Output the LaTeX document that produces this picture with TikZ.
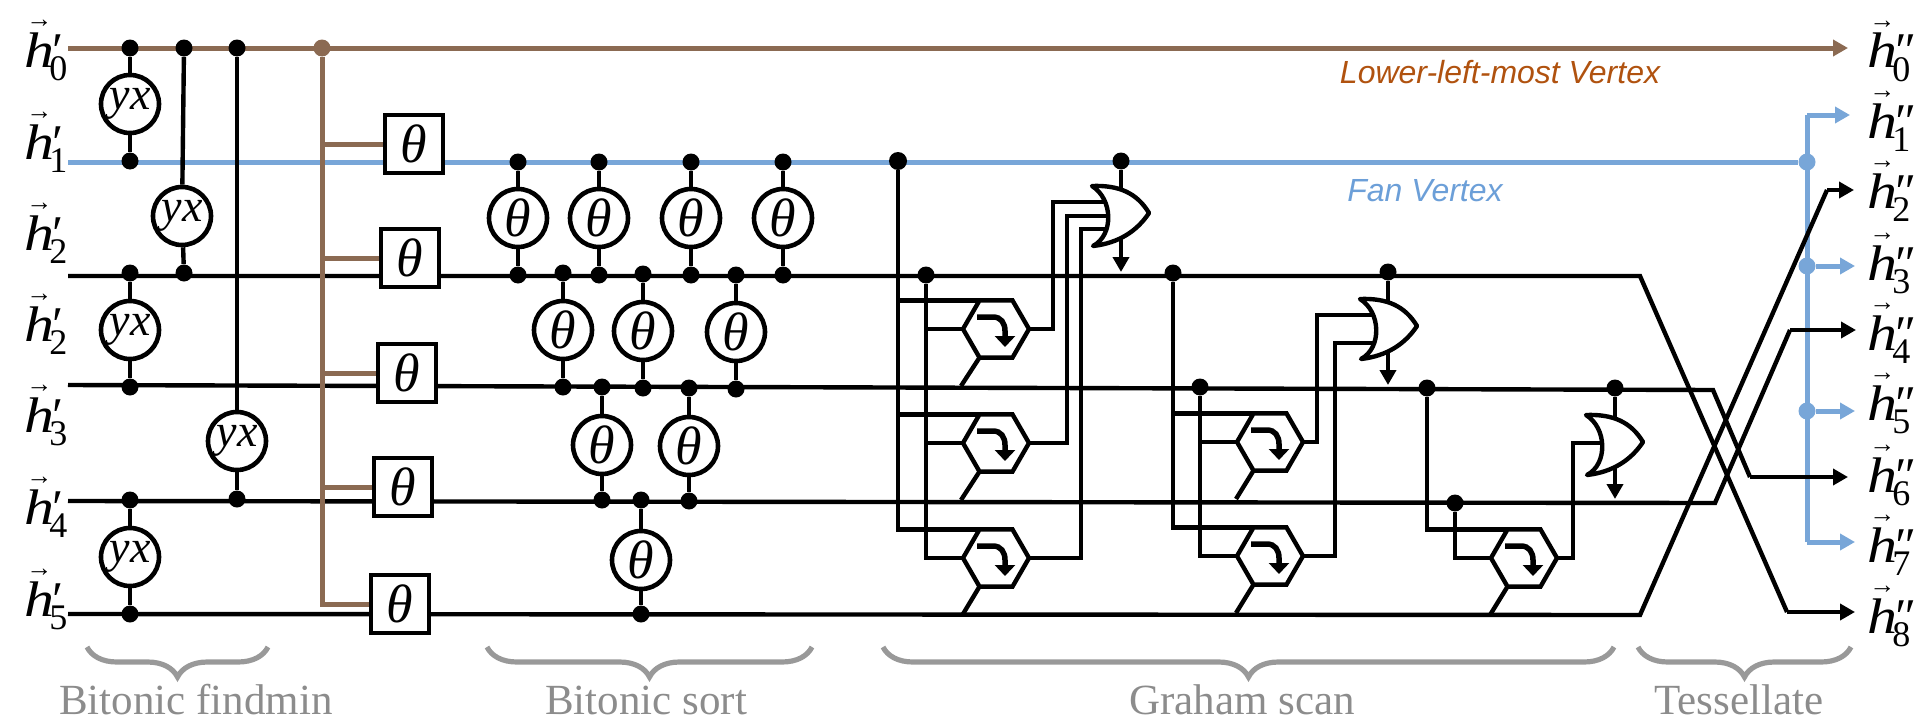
\documentclass[tikz,border=0pt]{standalone}
\usepackage{fontspec}
\setmainfont{Liberation Serif}
\newfontfamily\labsans{Liberation Sans}
\usetikzlibrary{positioning, arrows.meta, shapes.geometric, decorations.pathreplacing}
\definecolor{BrownA}{HTML}{8B6A52}
\definecolor{BlueA}{HTML}{78A6D8}
\definecolor{GrayA}{HTML}{999999}
\definecolor{GrayT}{HTML}{8C8C8C}
\definecolor{OrangeT}{HTML}{B0520F}
\definecolor{BlueT}{HTML}{6C9FD8}
\newcommand{\hlab}[2]{\rlap{\hspace{1pt}\raisebox{20pt}{\fontsize{13}{13}\selectfont →}}\scalebox{1.2}[1]{\itshape h}\hspace{-2.5pt}\rlap{\itshape #1}\raisebox{-6.5pt}{\fontsize{18}{20}\selectfont #2}}
\tikzset{
  wire/.style={draw=black, line width=2.2pt},
  wbrown/.style={draw=BrownA, line width=2.5pt},
  wblue/.style={draw=BlueA, line width=2.5pt},
  arr/.style={-{Triangle[length=7.5pt,width=8pt]}},
  dotk/.style={circle, fill=black, minimum size=8.5pt, inner sep=0pt},
  dotb/.style={circle, fill=BrownA, minimum size=8.5pt, inner sep=0pt},
  dotl/.style={circle, fill=BlueA, minimum size=8.5pt, inner sep=0pt},
  yxg/.style={draw, circle, fill=white, line width=2.3pt, minimum size=29pt, inner sep=0pt, font=\fontsize{23}{27}\selectfont\itshape},
  thg/.style={draw, circle, fill=white, line width=2.3pt, minimum size=29pt, inner sep=0pt, font=\fontsize{27}{30}\selectfont\itshape},
  thb/.style={draw, rectangle, fill=white, line width=2.3pt, minimum size=29pt, inner sep=0pt, font=\fontsize{27}{30}\selectfont\itshape},
  hexg/.style={draw, regular polygon, regular polygon sides=6, fill=white, line width=2.2pt, minimum size=33pt, inner sep=0pt, outer sep=0pt},
  hlb/.style={anchor=base west, inner sep=0pt, font=\fontsize{25}{30}\selectfont},
  brc/.style={draw=GrayA, line width=2.6pt, decorate, decoration={brace, mirror, amplitude=15pt}},
  sec/.style={text=GrayT, inner sep=0pt, font=\fontsize{21.5}{25}\selectfont},
  lane/.style={inner sep=0pt, font=\labsans\fontsize{16}{19}\selectfont\itshape},
  bendtip/.pic={
    \draw[line width=2.75pt, -{Triangle[length=5.5pt,width=10pt]}] (-19,-12) -- (-3,-12) .. controls (5,-12) and (9,-6) .. (9,2) -- (9,18);
  },
  orgate/.pic={
    \draw[line width=2.2pt, fill=white, line join=round] (-57,-27) .. controls (-30,-28) and (-12,-20) .. (0,0) .. controls (-12,18) and (-30,30) .. (-56,33) .. controls (-35,22) and (-36,-14) .. cycle;
  }
}
\begin{document}
\begin{tikzpicture}[x=0.5pt, y=-0.5pt]
  \useasboundingbox (0,0) rectangle (1923,728);

  \node[hlb] (ia) at (24,67) {\hlab{′}{0}};
  \node[hlb] (ib) at (24,159) {\hlab{′}{1}};
  \node[hlb] (ic) at (24,250) {\hlab{′}{2}};
  \node[hlb] (id) at (24,341) {\hlab{′}{2}};
  \node[hlb] (ie) at (24,432) {\hlab{′}{3}};
  \node[hlb] (if) at (24,524) {\hlab{′}{4}};
  \node[hlb] (ig) at (24,616) {\hlab{′}{5}};

  \node[hlb] (oa) at (1867,68) {\hlab{″}{0}};
  \node[hlb] (ob) at (1867,138) {\hlab{″}{1}};
  \node[hlb] (oc) at (1867,208) {\hlab{″}{2}};
  \node[hlb] (od) at (1867,280) {\hlab{″}{3}};
  \node[hlb] (oe) at (1867,350) {\hlab{″}{4}};
  \node[hlb] (of) at (1867,420) {\hlab{″}{5}};
  \node[hlb] (og) at (1867,492) {\hlab{″}{6}};
  \node[hlb] (oh) at (1867,562) {\hlab{″}{7}};
  \node[hlb] (oi) at (1867,633) {\hlab{″}{8}};

  \coordinate (wa) at (68,48);
  \coordinate (wb) at (68,162);
  \coordinate (wc) at (68,276);
  \coordinate (wd) at (68,385);
  \coordinate (we) at (68,501);
  \coordinate (wf) at (68,614);
  \coordinate (xa) at (1848,48);
  \coordinate (xb) at (1850,115);
  \coordinate (xc) at (1855,266);
  \coordinate (xd) at (1855,411);
  \coordinate (xe) at (1855,542);
  \coordinate (xf) at (1854,190);
  \coordinate (xg) at (1856,330);
  \coordinate (xh) at (1848,477);
  \coordinate (xi) at (1855,612);
  \coordinate (ka) at (1640,276);
  \coordinate (kb) at (1787,612);
  \coordinate (kc) at (1713,390);
  \coordinate (kd) at (1750,477);
  \coordinate (ke) at (1715,503);
  \coordinate (kf) at (1790,330);
  \coordinate (kg) at (1640,615);
  \coordinate (kh) at (1827,190);
  \coordinate (tb) at (1807,115);
  \coordinate (tc) at (1807,542);

  \node[dotl] (la) at (1807,162) {};
  \node[dotl] (lb) at (1807,266) {};
  \node[dotl] (lc) at (1807,411) {};
  \draw[wblue] (wb) -- (la);
  \draw[wblue] (tc) -- (tb);
  \draw[wblue, arr] (tb) -- (xb);
  \draw[wblue, arr] (lb) -- (xc);
  \draw[wblue, arr] (lc) -- (xd);
  \draw[wblue, arr] (tc) -- (xe);

  \draw[wire] (wc) -- (ka) -- (kb);
  \draw[wire, arr] (kb) -- (xi);
  \draw[wire] (wd) -- (kc) -- (kd);
  \draw[wire, arr] (kd) -- (xh);
  \draw[wire] (we) -- (ke) -- (kf);
  \draw[wire, arr] (kf) -- (xg);
  \draw[wire] (wf) -- (kg) -- (kh);
  \draw[wire, arr] (kh) -- (xf);

  \draw[wbrown, arr] (wa) -- (xa);
  \node[lane, text=OrangeT] (vlow) at (1500,72) {Lower-left-most Vertex};
  \node[lane, text=BlueT] (vfan) at (1425,191) {Fan Vertex};

  \node[yxg] (ya) at (130,104) {yx\hspace{5pt}};
  \node[yxg] (yb) at (182,216) {yx\hspace{5pt}};
  \node[yxg] (yc) at (130,330) {yx\hspace{5pt}};
  \node[yxg] (yd) at (237,441) {yx\hspace{5pt}};
  \node[yxg] (ye) at (130,557) {yx\hspace{5pt}};
  \node[dotk] (ya1) at (130,48) {};
  \node[dotk] (ya2) at (130,161) {};
  \node[dotk] (yb1) at (184,48) {};
  \node[dotk] (yb2) at (184,273) {};
  \node[dotk] (yc1) at (130,273) {};
  \node[dotk] (yc2) at (130,387) {};
  \node[dotk] (yd1) at (237,48) {};
  \node[dotk] (yd2) at (237,499) {};
  \node[dotk] (ye1) at (130,500) {};
  \node[dotk] (ye2) at (130,614) {};
  \draw[wire] (ya1) -- (ya) -- (ya2);
  \draw[wire] (yb1) -- (yb) -- (yb2);
  \draw[wire] (yc1) -- (yc) -- (yc2);
  \draw[wire] (yd1) -- (yd) -- (yd2);
  \draw[wire] (ye1) -- (ye) -- (ye2);

  \node[dotb] (ba) at (322,48) {};
  \node[thb] (ta) at (414,144) {θ};
  \node[thb] (tbx) at (410,258) {θ};
  \node[thb] (tcx) at (407,373) {θ};
  \node[thb] (tdx) at (403,487) {θ};
  \node[thb] (tex) at (400,604) {θ};
  \draw[wbrown] (ba) |- (tex);
  \draw[wbrown] (ba) |- (ta);
  \draw[wbrown] (ba) |- (tbx);
  \draw[wbrown] (ba) |- (tcx);
  \draw[wbrown] (ba) |- (tdx);

  \node[thg] (ga) at (518,218) {θ};
  \node[thg] (gb) at (599,218) {θ};
  \node[thg] (gc) at (691,218) {θ};
  \node[thg] (gd) at (783,218) {θ};
  \node[thg] (ge) at (563,330) {θ};
  \node[thg] (gf) at (643,331) {θ};
  \node[thg] (gg) at (736,332) {θ};
  \node[thg] (gh) at (602,445) {θ};
  \node[thg] (gi) at (689,446) {θ};
  \node[thg] (gj) at (641,560) {θ};
  \node[dotk] (ga1) at (518,162) {};
  \node[dotk] (ga2) at (518,275) {};
  \node[dotk] (gb1) at (599,162) {};
  \node[dotk] (gb2) at (599,275) {};
  \node[dotk] (gc1) at (691,162) {};
  \node[dotk] (gc2) at (691,275) {};
  \node[dotk] (gd1) at (783,162) {};
  \node[dotk] (gd2) at (783,275) {};
  \node[dotk] (ge1) at (563,273) {};
  \node[dotk] (ge2) at (563,387) {};
  \node[dotk] (gf1) at (643,274) {};
  \node[dotk] (gf2) at (643,388) {};
  \node[dotk] (gg1) at (736,275) {};
  \node[dotk] (gg2) at (736,389) {};
  \node[dotk] (gh1) at (602,387) {};
  \node[dotk] (gh2) at (602,500) {};
  \node[dotk] (gi1) at (689,388) {};
  \node[dotk] (gi2) at (689,501) {};
  \node[dotk] (gj1) at (641,500) {};
  \node[dotk] (gj2) at (641,614) {};
  \draw[wire] (ga1) -- (ga) -- (ga2);
  \draw[wire] (gb1) -- (gb) -- (gb2);
  \draw[wire] (gc1) -- (gc) -- (gc2);
  \draw[wire] (gd1) -- (gd) -- (gd2);
  \draw[wire] (ge1) -- (ge) -- (ge2);
  \draw[wire] (gf1) -- (gf) -- (gf2);
  \draw[wire] (gg1) -- (gg) -- (gg2);
  \draw[wire] (gh1) -- (gh) -- (gh2);
  \draw[wire] (gi1) -- (gi) -- (gi2);
  \draw[wire] (gj1) -- (gj) -- (gj2);

  \node[hexg] (ha) at (996,329) {};
  \node[hexg] (hb) at (996,443) {};
  \node[hexg] (hc) at (996,558) {};
  \node[hexg] (hd) at (1270,442) {};
  \node[hexg] (he) at (1270,556) {};
  \node[hexg] (hf) at (1524,558) {};
  \pic at (ha) {bendtip};
  \pic at (hb) {bendtip};
  \pic at (hc) {bendtip};
  \pic at (hd) {bendtip};
  \pic at (he) {bendtip};
  \pic at (hf) {bendtip};

  \node[dotk, minimum size=9pt] (da) at (898,161) {};
  \node[dotk] (db) at (926,275) {};
  \node[dotk] (dc) at (1173,273) {};
  \node[dotk] (dd) at (1200,387) {};
  \node[dotk] (de) at (1427,388) {};
  \node[dotk] (df) at (1455,503) {};
  \draw[wire] (da) |- (hc.corner 2);
  \draw[wire] (da) |- (ha.corner 2);
  \draw[wire] (da) |- (hb.corner 2);
  \draw[wire] (db) |- (hc.corner 3);
  \draw[wire] (db) |- (ha.corner 3);
  \draw[wire] (db) |- (hb.corner 3);
  \draw[wire] (dc) |- (he.corner 2);
  \draw[wire] (dc) |- (hd.corner 2);
  \draw[wire] (dd) |- (he.corner 3);
  \draw[wire] (dd) |- (hd.corner 3);
  \draw[wire] (de) |- (hf.corner 2);
  \draw[wire] (df) |- (hf.corner 3);

  \coordinate (fa) at (961,386);
  \coordinate (fb) at (961,500);
  \coordinate (fc) at (963,614);
  \coordinate (fd) at (1236,499);
  \coordinate (fe) at (1236,613);
  \coordinate (ff) at (1490,615);
  \draw[wire] (ha.corner 4) -- (fa);
  \draw[wire] (hb.corner 4) -- (fb);
  \draw[wire] (hc.corner 4) -- (fc);
  \draw[wire] (hd.corner 4) -- (fd);
  \draw[wire] (he.corner 4) -- (fe);
  \draw[wire] (hf.corner 4) -- (ff);

  \coordinate (ca) at (1053,202);
  \coordinate (cb) at (1067,216);
  \coordinate (cc) at (1081,229);
  \coordinate (cd) at (1317,315);
  \coordinate (ce) at (1335,343);
  \coordinate (cf) at (1573,443);
  \coordinate (na) at (1113,202);
  \coordinate (nb) at (1113,216);
  \coordinate (nc) at (1113,229);
  \coordinate (nd) at (1381,315);
  \coordinate (ne) at (1381,343);
  \coordinate (nf) at (1607,443);
  \draw[wire] (ha.corner 6) -| (ca) -- (na);
  \draw[wire] (hb.corner 6) -| (cb) -- (nb);
  \draw[wire] (hc.corner 6) -| (cc) -- (nc);
  \draw[wire] (hd.corner 6) -| (cd) -- (nd);
  \draw[wire] (he.corner 6) -| (ce) -- (ne);
  \draw[wire] (hf.corner 6) -| (cf) -- (nf);

  \node[dotk] (ra) at (1121,161) {};
  \node[dotk] (rb) at (1388,272) {};
  \node[dotk] (rc) at (1615,388) {};
  \coordinate (sa) at (1121,272);
  \coordinate (sb) at (1388,385);
  \coordinate (sc) at (1615,499);
  \draw[wire, arr] (ra) -- (sa);
  \draw[wire, arr] (rb) -- (sb);
  \draw[wire, arr] (rc) -- (sc);
  \pic at (1149,213) {orgate};
  \pic at (1417,326) {orgate};
  \pic at (1643,442) {orgate};

  \coordinate (bra) at (87,647);
  \coordinate (brb) at (268,647);
  \coordinate (brc) at (487,647);
  \coordinate (brd) at (812,647);
  \coordinate (bre) at (883,647);
  \coordinate (brf) at (1614,647);
  \coordinate (brg) at (1638,647);
  \coordinate (brh) at (1851,647);
  \draw[brc] (bra) -- (brb);
  \draw[brc] (brc) -- (brd);
  \draw[brc] (bre) -- (brf);
  \draw[brc] (brg) -- (brh);
  \node[sec] (sa1) at (196,700) {Bitonic findmin};
  \node[sec] (sa2) at (646,700) {Bitonic sort};
  \node[sec] (sa3) at (1242,700) {Graham scan};
  \node[sec] (sa4) at (1739,700) {Tessellate};
\end{tikzpicture}
\end{document}
